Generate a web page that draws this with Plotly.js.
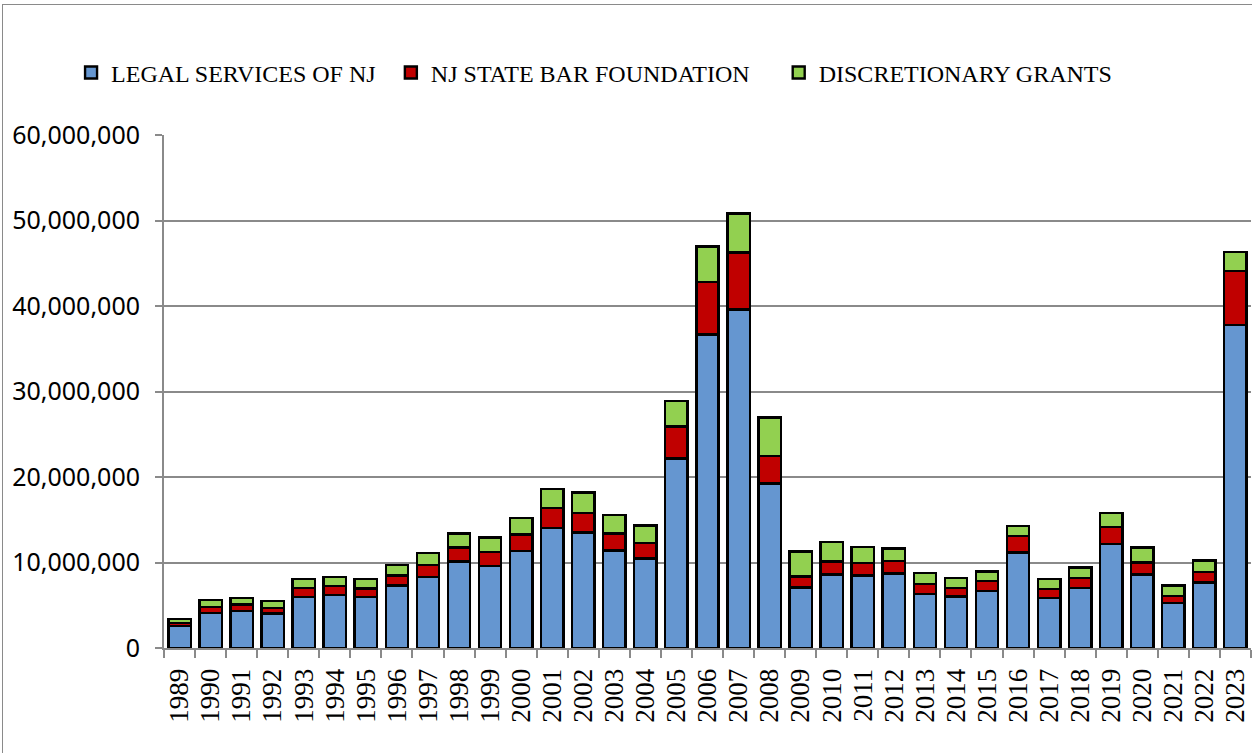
<!DOCTYPE html>
<html>
<head>
<meta charset="utf-8">
<script src="https://cdn.plot.ly/plotly-3.0.1.min.js"></script>
<style>
  html, body { margin: 0; padding: 0; background: #fff; overflow: hidden; }
  #chart { position: absolute; left: 0; top: 0; width: 1252px; height: 753px; }
  #frame { position: absolute; left: 2px; top: 4px; width: 1400px; height: 900px;
           border: 1.5px solid #8a8a8a; pointer-events: none; }
</style>
</head>
<body>
<div id="chart"></div>
<div id="frame"></div>
<script>
const years = ["1989","1990","1991","1992","1993","1994","1995","1996","1997","1998","1999","2000",
  "2001","2002","2003","2004","2005","2006","2007","2008","2009","2010","2011","2012","2013","2014",
  "2015","2016","2017","2018","2019","2020","2021","2022","2023"];

const legalServicesNJ = [2540000,4100000,4340000,4020000,5980000,6170000,5940000,7300000,8320000,10120000,
  9610000,11380000,14040000,13530000,11420000,10490000,22180000,36690000,39610000,19260000,7100000,
  8590000,8480000,8710000,6330000,6020000,6640000,11170000,5860000,6990000,12190000,8590000,5230000,
  7660000,37770000];

const njStateBarFoundation = [390000,700000,740000,630000,1010000,1060000,1010000,1180000,1410000,1640000,
  1600000,1880000,2330000,2260000,1950000,1790000,3750000,6120000,6630000,3200000,1240000,1530000,
  1480000,1450000,1130000,1010000,1170000,1920000,1020000,1170000,1950000,1410000,820000,1250000,6320000];

const discretionaryGrants = [470000,790000,780000,820000,1060000,1090000,1100000,1250000,1360000,1640000,
  1720000,1980000,2230000,2420000,2190000,2070000,2960000,4170000,4600000,4520000,2970000,2300000,
  1840000,1480000,1330000,1170000,1140000,1170000,1170000,1250000,1680000,1760000,1250000,1320000,2260000];

const seriesNames = ["LEGAL SERVICES OF NJ", "NJ STATE BAR FOUNDATION", "DISCRETIONARY GRANTS"];
const seriesColors = ["#6596d0", "#c00000", "#92d050"];
const seriesValues = [legalServicesNJ, njStateBarFoundation, discretionaryGrants];
const legendIds = ["legend", "legend2", "legend3"];
const legendX = [-0.0855, 0.2087, 0.5655];

const yTickVals = [0, 10000000, 20000000, 30000000, 40000000, 50000000, 60000000];
const yTickText = ["0", "10,000,000", "20,000,000", "30,000,000", "40,000,000", "50,000,000", "60,000,000"];

const traces = seriesValues.map((vals, i) => ({
  type: "bar",
  x: years,
  y: vals,
  name: seriesNames[i],
  legend: legendIds[i],
  marker: { color: seriesColors[i], line: { color: "#000", width: 2.4 } },
  hoverinfo: "x+y+name"
}));

function legendBox(x) {
  return {
    orientation: "h",
    x: x, xanchor: "left",
    y: 1.121, yanchor: "middle",
    font: { family: "Liberation Serif", size: 24, color: "#000" },
    itemwidth: 30,
    bgcolor: "rgba(0,0,0,0)"
  };
}

const layout = {
  width: 1252,
  height: 753,
  barmode: "stack",
  bargap: 0.28,
  paper_bgcolor: "rgba(0,0,0,0)",
  plot_bgcolor: "rgba(0,0,0,0)",
  margin: { l: 164, r: 0.5, t: 135, b: 104.7, pad: 0 },
  showlegend: true,
  legend: legendBox(legendX[0]),
  legend2: legendBox(legendX[1]),
  legend3: legendBox(legendX[2]),
  xaxis: {
    type: "category",
    tickmode: "array",
    tickvals: years,
    ticktext: years,
    tickangle: -90,
    tickson: "boundaries",
    ticks: "outside",
    ticklen: 8,
    tickwidth: 2,
    tickcolor: "#8a8a8a",
    ticklabelstandoff: 8,
    showline: true,
    linecolor: "#8a8a8a",
    linewidth: 2,
    showgrid: false,
    tickfont: { family: "Liberation Serif", size: 27, color: "#000" },
    fixedrange: true
  },
  yaxis: {
    range: [0, 60000000],
    tickmode: "array",
    tickvals: yTickVals,
    ticktext: yTickText,
    ticks: "outside",
    ticklen: 7,
    tickwidth: 2,
    tickcolor: "#8a8a8a",
    ticklabelstandoff: 10,
    showline: true,
    linecolor: "#8a8a8a",
    linewidth: 2,
    showgrid: true,
    gridcolor: "#8a8a8a",
    gridwidth: 2,
    zeroline: false,
    tickfont: { family: "Noto Sans", size: 25, color: "#000" },
    fixedrange: true
  }
};

Plotly.newPlot("chart", traces, layout, { displayModeBar: false, staticPlot: true });
</script>
</body>
</html>
